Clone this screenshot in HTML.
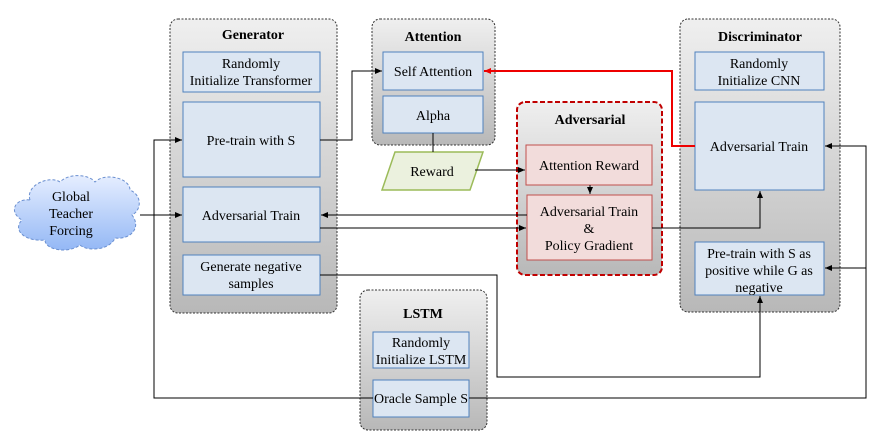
<!DOCTYPE html>
<html><head><style>
body{margin:0;background:#fff;width:883px;height:434px;overflow:hidden;font-family:"Liberation Serif",serif}
</style></head><body>
<svg width="883" height="434" xmlns="http://www.w3.org/2000/svg" font-family="Liberation Serif, serif" font-size="14">
<defs>
<linearGradient id="g" x1="0" y1="0" x2="0" y2="1"><stop offset="0" stop-color="#efefef"/><stop offset="1" stop-color="#b8b8b8"/></linearGradient>
<linearGradient id="c" x1="0" y1="0" x2="0" y2="1"><stop offset="0" stop-color="#e6eeff"/><stop offset="1" stop-color="#94b8f5"/></linearGradient>
<marker id="a" markerWidth="8" markerHeight="8" refX="7" refY="4" orient="auto" markerUnits="userSpaceOnUse"><path d="M0,1 L7,4 L0,7z" fill="#000"/></marker>
<marker id="r" markerWidth="8" markerHeight="8" refX="7" refY="4" orient="auto" markerUnits="userSpaceOnUse"><path d="M0,1 L7,4 L0,7z" fill="#e00"/></marker>
</defs>
<g stroke="#333" stroke-dasharray="2,1.5" fill="url(#g)">
<rect x="170" y="19" width="167" height="294" rx="8"/>
<rect x="372" y="19" width="123" height="126" rx="8"/>
<rect x="680" y="19" width="160" height="293" rx="8"/>
<rect x="360" y="290" width="127" height="140" rx="8"/>
</g>
<rect x="517" y="102" width="145" height="173" rx="8" fill="url(#g)" stroke="#c00000" stroke-width="2" stroke-dasharray="5,2.5"/>
<g font-weight="bold" text-anchor="middle">
<text x="253" y="39">Generator</text><text x="433" y="41">Attention</text>
<text x="760" y="41">Discriminator</text><text x="423" y="318">LSTM</text>
<text x="590" y="124">Adversarial</text></g>
<g fill="#dce6f2" stroke="#4f81bd">
<rect x="183" y="52" width="137" height="40"/><rect x="183" y="102" width="137" height="75"/>
<rect x="183" y="187" width="137" height="55"/><rect x="183" y="255" width="137" height="40"/>
<rect x="383" y="52" width="100" height="38"/><rect x="383" y="96" width="100" height="37"/>
<rect x="695" y="52" width="129" height="38"/><rect x="695" y="102" width="129" height="88"/>
<rect x="695" y="242" width="129" height="53"/>
<rect x="373" y="332" width="96" height="36"/><rect x="373" y="380" width="96" height="37"/>
</g>
<g fill="#f2dcdb" stroke="#c0504d">
<rect x="526" y="145" width="126" height="40"/><rect x="527" y="195" width="125" height="65"/></g>
<path d="M395,152 L483,152 L470,190 L382,190z" fill="#ebf1de" stroke="#9bbb59" stroke-width="1.5"/>
<path d="M30,200 C25,185 50,175 60,182 C70,172 90,175 95,182 C105,172 130,178 130,190 C142,195 142,210 132,215 C142,228 130,240 115,238 C110,250 88,252 80,245 C68,254 45,250 45,240 C25,242 12,230 22,220 C8,212 15,198 30,200z" fill="url(#c)" stroke="#6a8fd0" stroke-dasharray="3,2"/>
<g fill="none" stroke="#000">
<path d="M320,140 H352 V71 H382" marker-end="url(#a)"/>
<path d="M433,133 V152"/>
<path d="M475,170 H525" marker-end="url(#a)"/>
<path d="M590,185 V194" marker-end="url(#a)"/>
<path d="M527,215 H321" marker-end="url(#a)"/>
<path d="M320,228 H526" marker-end="url(#a)"/>
<path d="M652,228 H760 V191" marker-end="url(#a)"/>
<path d="M140,215 H182" marker-end="url(#a)"/>
<path d="M320,275 H497 V377 H760 V296" marker-end="url(#a)"/>
<path d="M373,398 H154 V140 H182" marker-end="url(#a)"/>
<path d="M469,398 H866 V146 H825" marker-end="url(#a)"/>
<path d="M866,268 H825" marker-end="url(#a)"/>
</g>
<path d="M695,146 H672 V71 H484" fill="none" stroke="#e00" stroke-width="2" marker-end="url(#r)"/>
<g text-anchor="middle">
<text x="251" y="68">Randomly</text><text x="251" y="85">Initialize Transformer</text>
<text x="251" y="145">Pre-train with S</text><text x="251" y="220">Adversarial Train</text>
<text x="251" y="271">Generate negative</text><text x="251" y="288">samples</text>
<text x="433" y="76">Self Attention</text><text x="433" y="120">Alpha</text>
<text x="432" y="176">Reward</text>
<text x="71" y="201">Global</text><text x="71" y="218">Teacher</text><text x="71" y="235">Forcing</text>
<text x="589" y="170">Attention Reward</text>
<text x="589" y="216">Adversarial Train</text><text x="589" y="233">&amp;</text><text x="589" y="250">Policy Gradient</text>
<text x="759" y="68">Randomly</text><text x="759" y="85">Initialize CNN</text>
<text x="759" y="151">Adversarial Train</text>
<text x="759" y="258">Pre-train with S as</text><text x="759" y="275">positive while G as</text><text x="759" y="292">negative</text>
<text x="421" y="347">Randomly</text><text x="421" y="364">Initialize LSTM</text>
<text x="421" y="403">Oracle Sample S</text>
</g>
</svg>
</body></html>
